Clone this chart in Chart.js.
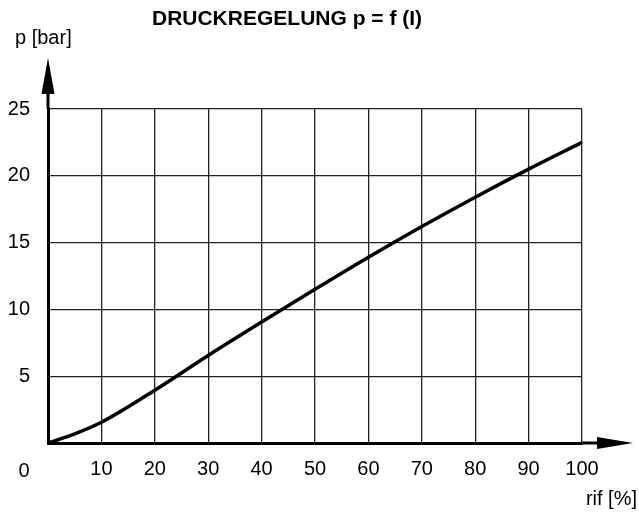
<!DOCTYPE html>
<html>
<head>
<meta charset="utf-8">
<script src="https://cdn.jsdelivr.net/npm/chart.js@4"></script>
<style>
  html, body { margin: 0; padding: 0; background: #fff; }
  #wrap { width: 639px; height: 513px; }
</style>
</head>
<body>
<div id="wrap"><canvas id="c" width="639" height="513"></canvas></div>
<script>
const rif = [0, 5, 10, 20, 30, 40, 50, 60, 70, 80, 90, 100];
const pressure = [0, 0.68, 1.55, 3.95, 6.55, 9.05, 11.5, 13.9, 16.2, 18.4, 20.5, 22.5];
const xTicks = [10, 20, 30, 40, 50, 60, 70, 80, 90, 100];
const yTicks = [5, 10, 15, 20, 25];
const titleText = 'DRUCKREGELUNG p = f (I)';
const yTitle = 'p [bar]';
const xTitle = 'rif [%]';
const originLabel = '0';

const FONT = '"Liberation Sans", Arial, sans-serif';

const decor = {
  id: 'decor',
  afterDraw(chart) {
    const ctx = chart.ctx;
    const xs = chart.scales.x, ys = chart.scales.y;
    const x0 = xs.getPixelForValue(0), y0 = ys.getPixelForValue(0);
    const top = ys.getPixelForValue(25), right = xs.getPixelForValue(100);
    ctx.save();
    ctx.strokeStyle = '#000';
    ctx.fillStyle = '#000';
    ctx.lineWidth = 3;
    // y axis extension + arrow
    ctx.beginPath();
    ctx.moveTo(x0, top);
    ctx.lineTo(x0, top - 18);
    ctx.stroke();
    ctx.beginPath();
    ctx.moveTo(x0, top - 51);
    ctx.lineTo(x0 - 6.5, top - 15);
    ctx.lineTo(x0 + 6.5, top - 15);
    ctx.closePath();
    ctx.fill();
    // x axis extension + arrow
    ctx.beginPath();
    ctx.moveTo(right, y0);
    ctx.lineTo(right + 17, y0);
    ctx.stroke();
    ctx.beginPath();
    ctx.moveTo(right + 51, y0);
    ctx.lineTo(right + 15, y0 - 6);
    ctx.lineTo(right + 15, y0 + 6);
    ctx.closePath();
    ctx.fill();
    // texts
    ctx.textAlign = 'center';
    ctx.textBaseline = 'alphabetic';
    ctx.font = 'bold 21px ' + FONT;
    ctx.fillText(titleText, 287, 25);
    ctx.font = '20px ' + FONT;
    ctx.textAlign = 'left';
    ctx.fillText(yTitle, 15, 44);
    ctx.textAlign = 'right';
    ctx.fillText(xTitle, 637, 505);
    ctx.textAlign = 'center';
    ctx.fillText(originLabel, x0 - 24, y0 + 34);
    ctx.restore();
  }
};

new Chart(document.getElementById('c'), {
  type: 'line',
  data: {
    datasets: [{
      data: rif.map((v, i) => ({ x: v, y: pressure[i] })),
      borderColor: '#000',
      borderWidth: 3.5,
      pointRadius: 0,
      fill: false,
      cubicInterpolationMode: 'monotone',
      clip: false
    }]
  },
  options: {
    responsive: false,
    animation: false,
    devicePixelRatio: 1,
    layout: { padding: { left: 0, right: 57, top: 109, bottom: 0 } },
    plugins: { legend: { display: false }, title: { display: false }, tooltip: { enabled: false } },
    scales: {
      x: {
        type: 'linear',
        min: 0, max: 100,
        afterBuildTicks(scale) { scale.ticks = [0].concat(xTicks).map(v => ({ value: v })); },
        afterFit(scale) { scale.height = 70; },
        ticks: {
          color: '#000',
          font: { family: FONT, size: 20 },
          padding: 14,
          maxRotation: 0,
          autoSkip: false,
          callback: (v) => (v === 0 ? '' : String(v))
        },
        grid: { color: '#222', lineWidth: 1.3, drawTicks: false },
        border: { color: '#000', width: 3 }
      },
      y: {
        type: 'linear',
        min: 0, max: 25,
        afterBuildTicks(scale) { scale.ticks = [0].concat(yTicks).map(v => ({ value: v })); },
        afterFit(scale) { scale.width = 48; },
        ticks: {
          color: '#000',
          font: { family: FONT, size: 20 },
          padding: 18,
          autoSkip: false,
          callback: (v) => (v === 0 ? '' : String(v))
        },
        grid: { color: '#222', lineWidth: 1.3, drawTicks: false },
        border: { color: '#000', width: 3 }
      }
    }
  },
  plugins: [decor]
});
</script>
</body>
</html>
